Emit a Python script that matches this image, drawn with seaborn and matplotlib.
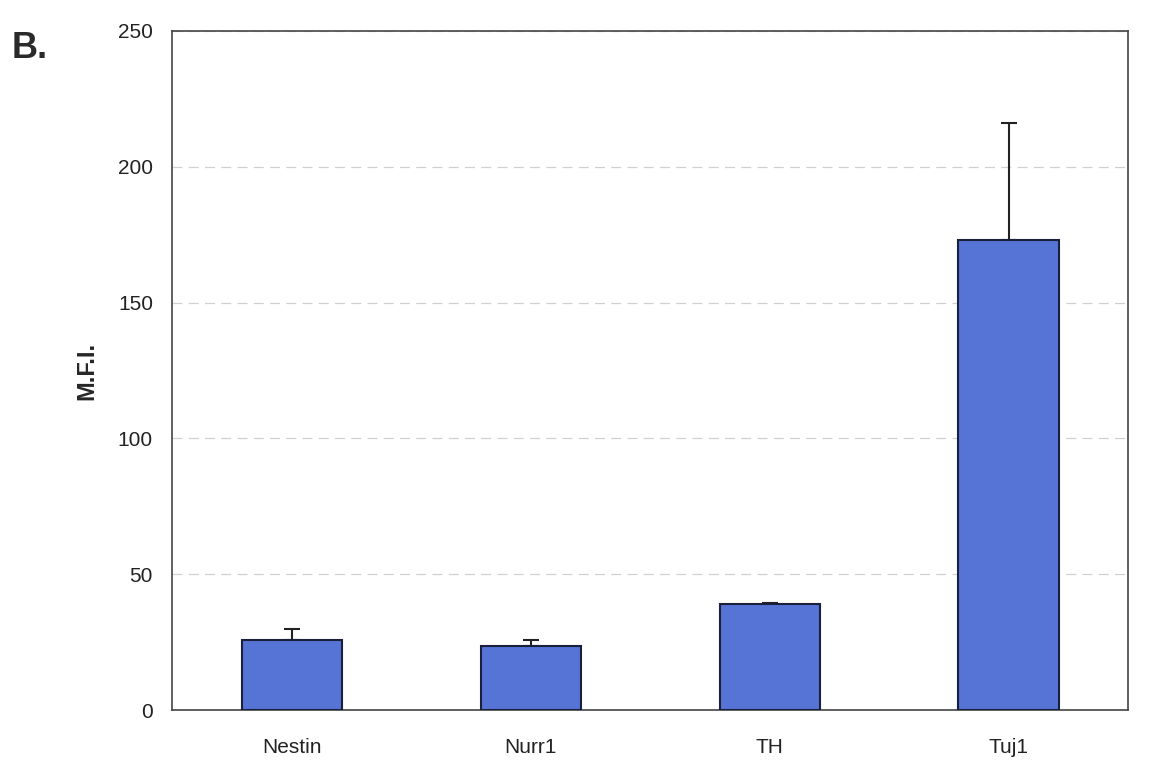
import pandas as pd
import seaborn as sns
import numpy as np
import matplotlib.pyplot as plt

# Values
markers = ["Nestin", "Nurr1", "TH", "Tuj1"]
mfi = [26, 23.5, 39, 173]
mfi_err = [4, 2.5, 0.5, 43]

df = pd.DataFrame({"marker": markers, "mfi": mfi, "err": mfi_err})

sns.set_style("white")
plt.rcParams['font.family'] = ['Liberation Sans', 'DejaVu Sans']

fig = plt.figure(figsize=(11.57, 7.67), dpi=100)
ax = fig.add_axes([0.149, 0.074, 0.826, 0.886])

sns.barplot(data=df, x="marker", y="mfi", color="#5673D6", saturation=1,
            width=0.42, edgecolor="#1a1f3a", linewidth=1.5, errorbar=None, ax=ax, zorder=3)

# only upper error bars, as in the original
ax.errorbar(x=np.arange(len(markers)), y=df["mfi"],
            yerr=[np.zeros(len(markers)), df["err"]],
            fmt="none", ecolor="#222222", elinewidth=1.5, capsize=6, capthick=1.5, zorder=2)

ax.set_ylim(0, 250)
ax.set_yticks([0, 50, 100, 150, 200, 250])
ax.set_xlim(-0.5, 3.5)
ax.yaxis.grid(True, linestyle=(0, (8, 5)), color="#d0d0d0", linewidth=0.9, zorder=0)
ax.set_axisbelow(True)

for s in ax.spines.values():
    s.set_color("#444444")
    s.set_linewidth(1.2)

ax.tick_params(axis="y", labelsize=15, length=0, pad=14, colors="#222222")
ax.tick_params(axis="x", labelsize=15, length=0, pad=20, colors="#222222")
ax.set_xlabel("")
ax.set_ylabel("M.F.I.", fontsize=17, fontweight="bold", labelpad=14)

fig.text(0.010, 0.925, "B.", fontsize=26, fontweight="bold", color="#2a2a2a")

plt.savefig("out.png", dpi=100)
